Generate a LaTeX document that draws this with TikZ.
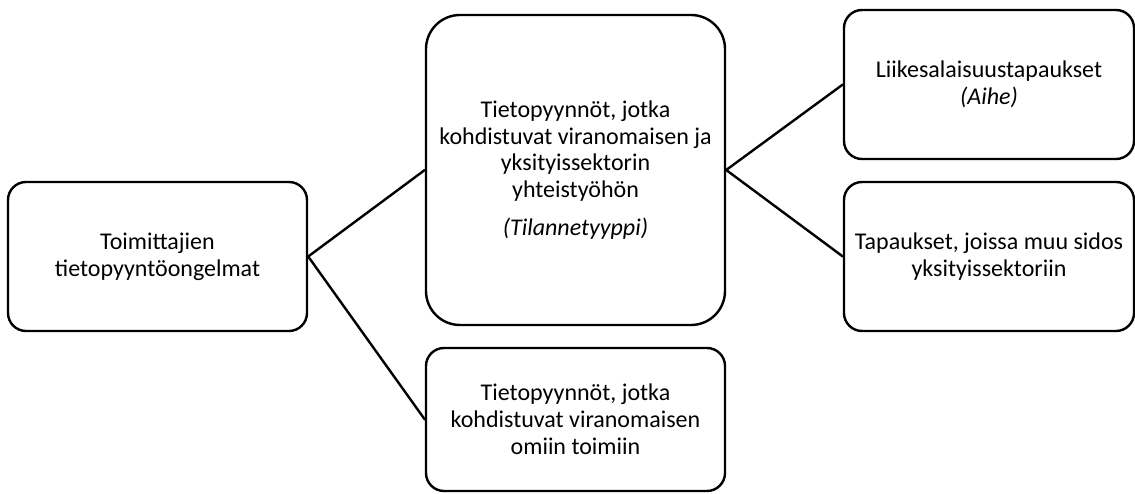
\documentclass[tikz,border=0pt]{standalone}
\usepackage{fontspec}
\setmainfont{Carlito}
\begin{document}
\begin{tikzpicture}[line cap=round,line join=round,x=1pt,y=1pt,
  box/.style={draw,line width=2.4pt,rounded corners=18pt,align=center,inner sep=0pt,font=\fontsize{24}{26.8}\selectfont},
  link/.style={line width=2.4pt}]
\useasboundingbox (0,0) rectangle (1135,493);
\node[box,minimum width=299,minimum height=149] (toim) at (157.5,236.5) {Toimittajien\\tietopyyntöongelmat};
\node[box,rounded corners=34pt,minimum width=299,minimum height=310] (yhteis) at (575.5,323) {Tietopyynnöt, jotka\\kohdistuvat viranomaisen ja\\yksityissektorin\\yhteistyöhön\\[11pt]\textit{(Tilannetyyppi)}};
\node[box,minimum width=299,minimum height=143] (omat) at (575.5,73.5) {Tietopyynnöt, jotka\\kohdistuvat viranomaisen\\omiin toimiin};
\node[box,minimum width=290,minimum height=149] (liike) at (989,408.5) {Liikesalaisuustapaukset\\\textit{(Aihe)}};
\node[box,minimum width=290,minimum height=149] (sidos) at (989,236.5) {Tapaukset, joissa muu sidos\\yksityissektoriin};
\draw[link] (toim.east) -- (yhteis.west);
\draw[link] (toim.east) -- (omat.west);
\draw[link] (yhteis.east) -- (liike.west);
\draw[link] (yhteis.east) -- (sidos.west);
\end{tikzpicture}
\end{document}
